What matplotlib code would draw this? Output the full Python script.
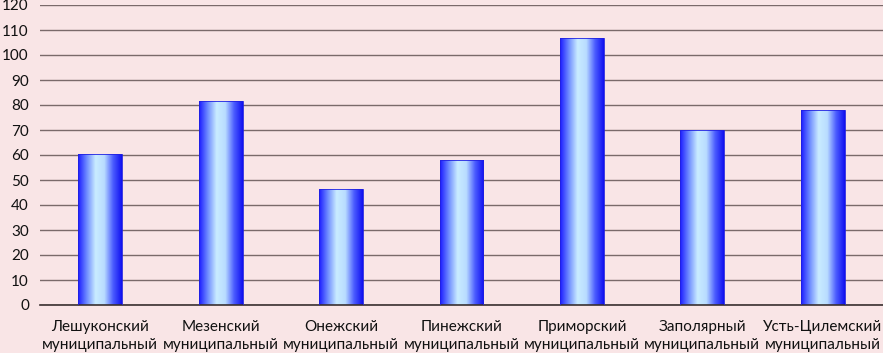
import numpy as np
import matplotlib.pyplot as plt
from matplotlib.colors import LinearSegmentedColormap

plt.rcParams['font.family'] = ['Lato', 'DejaVu Sans']

districts = ["Лешуконский\nмуниципальный", "Мезенский\nмуниципальный", "Онежский\nмуниципальный",
             "Пинежский\nмуниципальный", "Приморский\nмуниципальный", "Заполярный\nмуниципальный",
             "Усть-Цилемский\nмуниципальный"]
values = [60.5, 81.6, 46.6, 58.2, 106.9, 70.1, 78.1]
yticks = list(range(0, 121, 10))

bg = "#f9e5e6"
fig = plt.figure(figsize=(8.83, 3.53), dpi=100, facecolor=bg)
ax = fig.add_axes([40/883, 1-305/353, 1-40/883, 300/353])
ax.set_facecolor(bg)

cmap = LinearSegmentedColormap.from_list("bar", ["#1a1aff", "#6f8cff", "#c9ecff", "#b9dcff", "#4b5cff", "#1010f0"])
grad = np.linspace(0, 1, 256).reshape(1, -1)

x = np.arange(len(districts))
bars = ax.bar(x, values, width=0.365, color="none", edgecolor="#2020e0", linewidth=0.6, zorder=3)
for b in bars:
    bx, by = b.get_x(), b.get_y()
    w, h = b.get_width(), b.get_height()
    im = ax.imshow(grad, cmap=cmap, aspect="auto", extent=[bx, bx+w, by, by+h], zorder=2)
    im.set_clip_path(b)

ax.set_xlim(-0.5, len(districts)-0.5)
ax.set_ylim(0, 120)
ax.set_yticks(yticks)
ax.yaxis.grid(True, color="#7a6a6a", linewidth=1)
ax.set_axisbelow(True)
for s in ["top", "right", "left"]:
    ax.spines[s].set_visible(False)
ax.spines["bottom"].set_color("#3a3030")
ax.spines["bottom"].set_linewidth(1.2)
ax.tick_params(axis="y", length=0, labelsize=11, pad=8, colors="#111111")
ax.tick_params(axis="x", length=0, labelsize=11, pad=11, colors="#111111")
ax.set_xticks(x)
ax.set_xticklabels(districts, linespacing=1.35)

fig.savefig("out.png", dpi=100, facecolor=bg)
